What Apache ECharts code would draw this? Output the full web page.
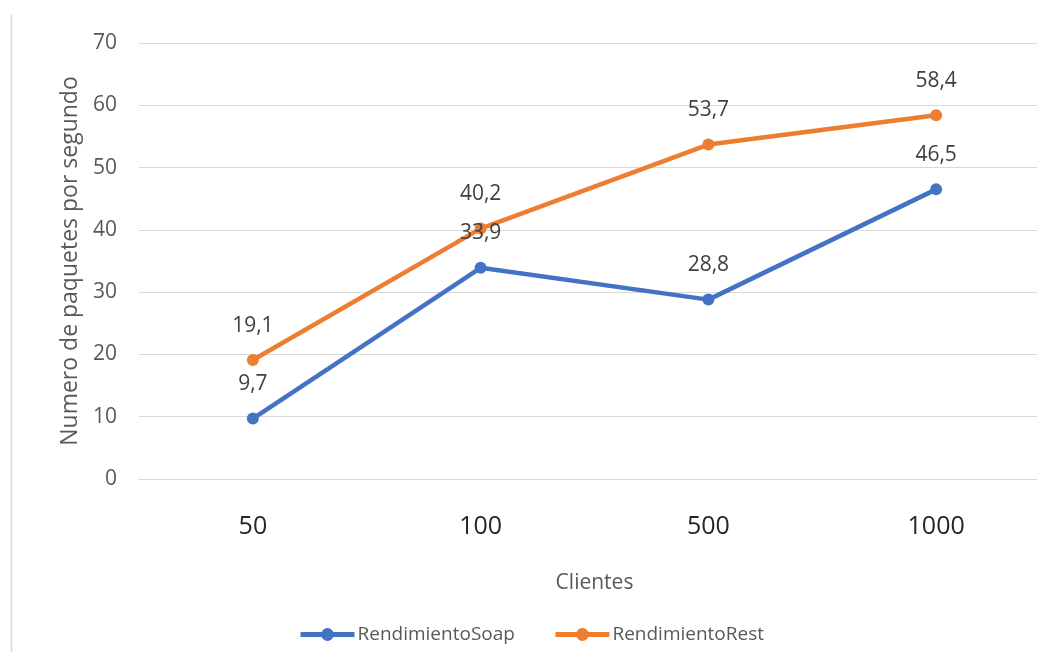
<!DOCTYPE html>
<html>
<head>
<meta charset="utf-8">
<script src="https://cdn.jsdelivr.net/npm/echarts@6/dist/echarts.min.js"></script>
<style>
html,body{margin:0;padding:0;background:#fff;overflow:hidden;width:1037px;height:652px;}
#chart{width:1050px;height:652px;}
</style>
</head>
<body>
<div id="chart"></div>
<script>
var categories = ['50', '100', '500', '1000'];
var soapValues = [9.7, 33.9, 28.8, 46.5];
var restValues = [19.1, 40.2, 53.7, 58.4];
var yTicks = [0, 10, 20, 30, 40, 50, 60, 70];

var FONT = '"Open Sans", "Noto Sans", sans-serif';
var chart = echarts.init(document.getElementById('chart'), null, {renderer: 'canvas'});

function fmt(p) { return String(p.value).replace('.', ','); }

chart.setOption({
  backgroundColor: '#ffffff',
  animation: false,
  graphic: [{
    type: 'line',
    shape: {x1: 11.5, y1: 14, x2: 11.5, y2: 652},
    style: {stroke: '#d9d9d9', lineWidth: 1.5}
  }],
  grid: {left: 139, top: 43, bottom: 173, right: 0},
  legend: {
    left: 298,
    top: 625,
    padding: 0,
    itemWidth: 54,
    itemHeight: 16,
    itemGap: 38,
    lineStyle: {width: 5},
    textStyle: {fontFamily: FONT, fontSize: 19, color: '#595959', padding: [0, 0, 0, -2]},
    data: ['RendimientoSoap', 'RendimientoRest']
  },
  xAxis: {
    type: 'category',
    data: categories,
    boundaryGap: true,
    name: 'Clientes',
    nameLocation: 'middle',
    nameGap: 94,
    nameTextStyle: {fontFamily: FONT, fontSize: 21, color: '#595959'},
    axisLine: {show: true, lineStyle: {color: '#d9d9d9', width: 1}},
    axisTick: {show: false},
    axisLabel: {fontFamily: FONT, fontSize: 25, color: '#262626', margin: 35}
  },
  yAxis: {
    type: 'value',
    min: yTicks[0],
    max: yTicks[yTicks.length - 1],
    interval: 10,
    name: 'Numero de paquetes por segundo',
    nameLocation: 'middle',
    nameGap: 57,
    nameTextStyle: {fontFamily: FONT, fontSize: 23, color: '#595959'},
    axisLine: {show: false},
    axisTick: {show: false},
    axisLabel: {fontFamily: FONT, fontSize: 21, color: '#595959', margin: 22},
    splitLine: {lineStyle: {color: '#d9d9d9', width: 1}}
  },
  series: [
    {
      name: 'RendimientoSoap',
      type: 'line',
      data: soapValues,
      color: '#4472C4',
      symbol: 'circle',
      symbolSize: 12,
      lineStyle: {width: 4.5, color: '#4472C4'},
      itemStyle: {color: '#4472C4'},
      label: {show: true, position: 'top', distance: 18, formatter: fmt,
        fontFamily: FONT, fontSize: 21, color: '#404040'}
    },
    {
      name: 'RendimientoRest',
      type: 'line',
      data: restValues,
      color: '#ED7D31',
      symbol: 'circle',
      symbolSize: 12,
      lineStyle: {width: 4.5, color: '#ED7D31'},
      itemStyle: {color: '#ED7D31'},
      label: {show: true, position: 'top', distance: 18, formatter: fmt,
        fontFamily: FONT, fontSize: 21, color: '#404040'}
    }
  ]
});
</script>
</body>
</html>
